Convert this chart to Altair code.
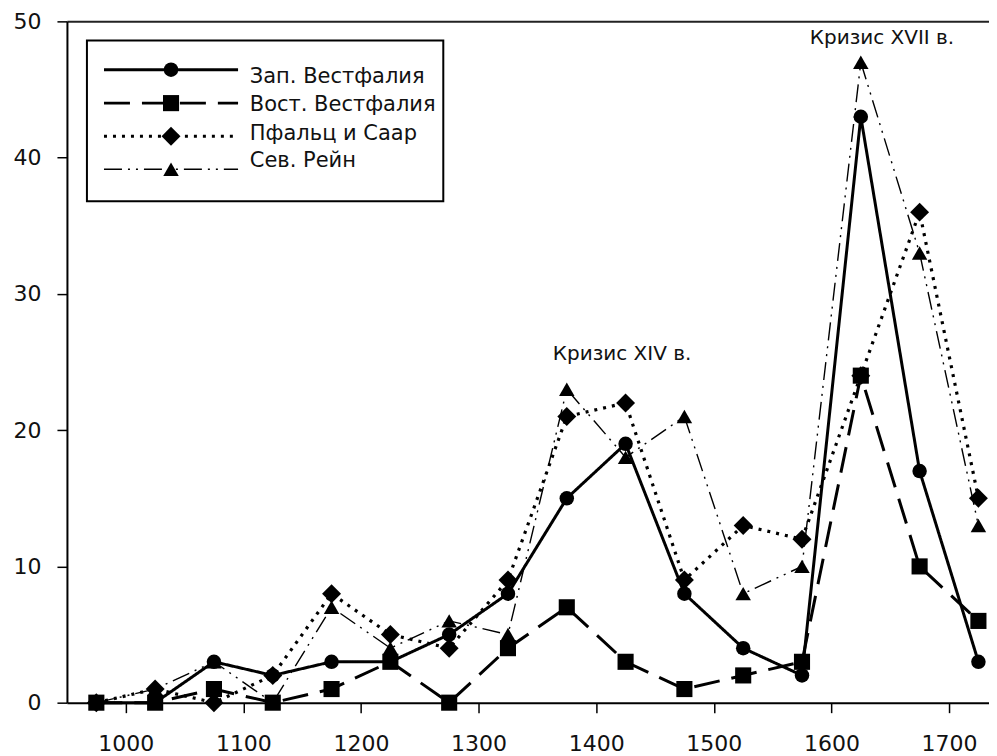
import altair as alt
import pandas as pd

# ---------------- data ----------------
years = [975, 1025, 1075, 1125, 1175, 1225, 1275, 1325,
         1375, 1425, 1475, 1525, 1575, 1625, 1675, 1725]
zap_westfalia = [0, 0, 3, 2, 3, 3, 5, 8, 15, 19, 8, 4, 2, 43, 17, 3]
vost_westfalia = [0, 0, 1, 0, 1, 3, 0, 4, 7, 3, 1, 2, 3, 24, 10, 6]
pfalz_saar = [0, 1, 0, 2, 8, 5, 4, 9, 21, 22, 9, 13, 12, 24, 36, 15]
sev_rein = [0, 1, 3, 0, 7, 4, 6, 5, 23, 18, 21, 8, 10, 47, 33, 13]

series_names = ["Зап. Вестфалия", "Вост. Вестфалия", "Пфальц и Саар", "Сев. Рейн"]
series_values = [zap_westfalia, vost_westfalia, pfalz_saar, sev_rein]

x_ticks = [1000, 1100, 1200, 1300, 1400, 1500, 1600, 1700]
y_ticks = [0, 10, 20, 30, 40, 50]

annotation_texts = ["Кризис XIV в.", "Кризис XVII в."]
annotation_years = [1422, 1643]
annotation_values = [25.6, 48.8]

# ---------------- styles ----------------
styles = [
    dict(dash=[1, 0], width=3.0, shape="circle", size=210),
    dict(dash=[26, 12], width=3.0, shape="square", size=260),
    dict(dash=[3, 6], width=3.2, shape="diamond", size=360),
    dict(dash=[18, 6, 2, 6, 2, 6], width=1.4, shape="triangle-up", size=240),
]

FONT = "DejaVu Sans"
INK = "#111111"

x_scale = alt.Scale(domain=[950, 1734], nice=False, zero=False)
y_scale = alt.Scale(domain=[0, 50], nice=False, zero=False)

x_axis_bottom = alt.Axis(values=x_ticks, format="d", title=None, grid=False,
                         tickSize=10, tickWidth=1.5, tickColor="black",
                         domainColor="black", domainWidth=2,
                         labelFont=FONT, labelFontSize=22, labelColor=INK,
                         labelPadding=21, labelFlush=False)
x_axis_top = alt.Axis(orient="top", title=None, grid=False, labels=False,
                      ticks=False, domainColor="#222222", domainWidth=2)
y_axis = alt.Axis(values=y_ticks, title=None, grid=False,
                  tickSize=10, tickWidth=1.5, tickColor="black",
                  domainColor="black", domainWidth=2,
                  labelFont=FONT, labelFontSize=22, labelColor=INK,
                  labelPadding=16, labelFlush=False)


def X(field, axis=None):
    return alt.X(field, type="quantitative", scale=x_scale, axis=axis)


def Y(field):
    return alt.Y(field, type="quantitative", scale=y_scale, axis=y_axis)


layers = []

# legend box (drawn in data space)
legend_box = pd.DataFrame({"x": [967], "x2": [1270], "y": [36.8], "y2": [48.6]})
layers.append(
    alt.Chart(legend_box).mark_rect(fill="white", stroke="black", strokeWidth=2)
    .encode(x=X("x", x_axis_top), x2="x2", y=Y("y"), y2="y2")
)

# series lines and markers
for i, (name, vals) in enumerate(zip(series_names, series_values)):
    st = styles[i]
    df = pd.DataFrame({"year": years, "value": vals, "series": name})
    line = alt.Chart(df).mark_line(color="black", strokeWidth=st["width"],
                                   strokeDash=st["dash"], strokeCap="butt")
    line = line.encode(x=X("year", x_axis_bottom if i == 0 else None), y=Y("value"))
    pts = alt.Chart(df).mark_point(shape=st["shape"], size=st["size"], filled=True,
                                   color="black", opacity=1)
    pts = pts.encode(x=X("year"), y=Y("value"))
    layers += [line, pts]

# legend entries
line_rows = [46.45, 44.0, 41.57, 39.15]
text_rows = [45.9, 43.85, 41.72, 39.74]
for i, name in enumerate(series_names):
    st = styles[i]
    seg = pd.DataFrame({"x": [981.5, 1095.5], "y": [line_rows[i]] * 2})
    layers.append(
        alt.Chart(seg).mark_line(color="black", strokeWidth=st["width"],
                                 strokeDash=st["dash"], strokeCap="butt")
        .encode(x=X("x"), y=Y("y"))
    )
    mk = pd.DataFrame({"x": [1038.5], "y": [line_rows[i]]})
    layers.append(
        alt.Chart(mk).mark_point(shape=st["shape"], size=st["size"], filled=True,
                                 color="black", opacity=1)
        .encode(x=X("x"), y=Y("y"))
    )
    tx = pd.DataFrame({"x": [1105.5], "y": [text_rows[i]], "t": [name]})
    layers.append(
        alt.Chart(tx).mark_text(align="left", baseline="middle", font=FONT,
                                fontSize=21, color=INK)
        .encode(x=X("x"), y=Y("y"), text="t:N")
    )

# annotations
ann = pd.DataFrame({"x": annotation_years, "y": annotation_values, "t": annotation_texts})
layers.append(
    alt.Chart(ann).mark_text(align="center", baseline="middle", font=FONT,
                             fontSize=20, color=INK)
    .encode(x=X("x"), y=Y("y"), text="t:N")
)

chart = (
    alt.layer(*layers)
    .resolve_axis(x="independent")
    .properties(width=923, height=682,
                padding={"left": 5, "top": 2, "right": 0, "bottom": 0},
                background="white")
    .configure_view(stroke=None)
)

chart.save("out.html", embed_options={"renderer": "svg", "actions": False})
